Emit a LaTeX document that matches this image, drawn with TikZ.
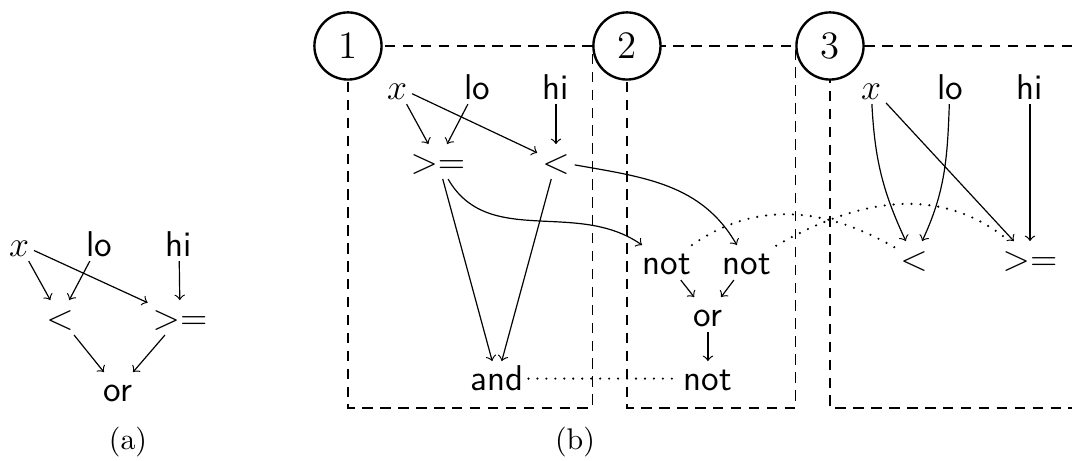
\documentclass[tikz,border=0pt]{standalone}
\usetikzlibrary{arrows.meta,backgrounds}

\begin{document}
\begin{tikzpicture}[
        >=to,
        lbl/.style={
            font=\sffamily\large,
            anchor=base,
            inner sep=1.5pt,
            text height=8.3pt,
            text depth=0pt
        },
        num/.style={
            circle,
            draw,
            thick,
            fill=white,
            minimum size=0.79cm,
            inner sep=0pt,
            font=\fontsize{13}{15}\selectfont
        },
        frame/.style={dash pattern=on 3.5pt off 2.5pt},
        link/.style={->},
        tie/.style={line width=0.8pt, dash pattern=on 0pt off 3pt, line cap=round}
    ]
        \useasboundingbox (0,0) rectangle (12.612,-5.412);

        % (a)
        \node[lbl] (ax)  at (0.224,-3.012) {$x$};
        \node[lbl] (alo) at (1.165,-3.012) {lo};
        \node[lbl] (ahi) at (2.106,-3.012) {hi};
        \node[lbl] (alt) at (0.706,-3.882) {$<$};
        \node[lbl] (age) at (2.118,-3.882) {$>=$};
        \node[lbl] (aor) at (1.388,-4.729) {or};
        \node[anchor=base] (capa) at (1.506,-5.294) {(a)};

        \draw[link] (ax) -- (alt);
        \draw[link] (alo) -- (alt);
        \draw[link] (ax) -- (age);
        \draw[link] (ahi) -- (age);
        \draw[link] (alt) -- (aor);
        \draw[link] (age) -- (aor);

        % (b) stages
        \node[num] (n1) at (4.094,-0.541) {1};
        \node[num] (n2) at (7.376,-0.541) {2};
        \node[num] (n3) at (9.765,-0.541) {3};
        \coordinate (bot) at (0,-4.8);
        \coordinate (redge) at (12.612,0);
        \begin{pgfonlayer}{background}
            \draw[frame] (n1.center) rectangle (n2.west |- bot);
            \draw[frame] (n2.center) rectangle (n3.west |- bot);
            \draw[frame] (redge |- n3.center) -- (n3.center) -- (n3.center |- bot) -- (redge |- bot);
        \end{pgfonlayer}

        % stage 1
        \node[lbl] (bx)   at (4.671,-1.165) {$x$};
        \node[lbl] (blo)  at (5.612,-1.165) {lo};
        \node[lbl] (bhi)  at (6.541,-1.165) {hi};
        \node[lbl] (bge)  at (5.153,-2.047) {$>=$};
        \node[lbl] (blt)  at (6.541,-2.047) {$<$};
        \node[lbl] (band) at (5.847,-4.600) {and};

        % stage 2
        \node[lbl] (nl)   at (7.847,-3.235) {not};
        \node[lbl] (nr)   at (8.788,-3.235) {not};
        \node[lbl] (bor)  at (8.329,-3.847) {or};
        \node[lbl] (bnot) at (8.329,-4.600) {not};

        % stage 3
        \node[lbl] (cx)  at (10.247,-1.165) {$x$};
        \node[lbl] (clo) at (11.176,-1.165) {lo};
        \node[lbl] (chi) at (12.118,-1.165) {hi};
        \node[lbl] (clt) at (10.753,-3.188) {$<$};
        \node[lbl] (cge) at (12.118,-3.188) {$>=$};

        \node[anchor=base] (capb) at (6.765,-5.294) {(b)};

        \draw[link] (bx) -- (bge);
        \draw[link] (blo) -- (bge);
        \draw[link] (bx) -- (blt);
        \draw[link] (bhi) -- (blt);
        \draw[link] (bge) -- (band);
        \draw[link] (blt) -- (band);
        \draw[link] (bge) to[out=-60, in=145] (nl);
        \draw[link] (blt) to[out=-10, in=120] (nr);

        \draw[link] (nl) -- (bor);
        \draw[link] (nr) -- (bor);
        \draw[link] (bor) -- (bnot);

        \draw[link] (cx) to[out=-87, in=115] (clt);
        \draw[link] (clo) to[out=-92, in=65] (clt);
        \draw[link] (cx) -- (cge);
        \draw[link] (chi) -- (cge);

        \draw[tie] (band) -- (bnot);
        \draw[tie] (nl) to[out=35, in=150] (clt);
        \draw[tie] (nr) to[out=30, in=140] (cge);
    \end{tikzpicture}
\end{document}
